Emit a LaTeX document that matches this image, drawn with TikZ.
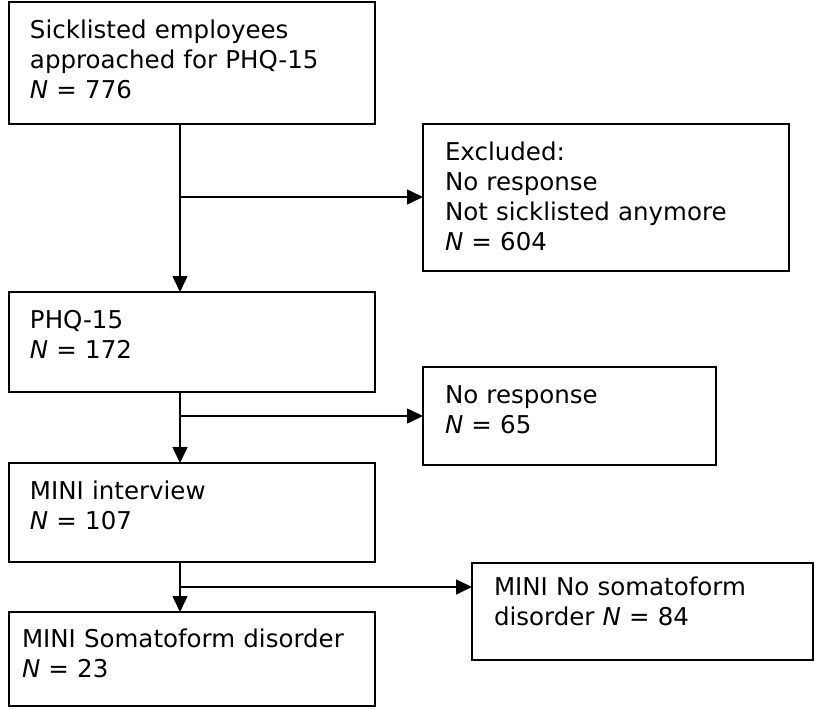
\documentclass[tikz,border=0pt]{standalone}
\usepackage{fontspec}
\setmainfont{DejaVu Sans}
\usetikzlibrary{arrows.meta}
\tikzset{
  stagebox/.style={draw, line width=1.6pt, anchor=north west, outer sep=0pt,
    inner xsep=21pt, inner ysep=0pt, align=left, text height=36pt,
    font=\fontsize{24.5pt}{30pt}\selectfont}
}
\begin{document}
\begin{tikzpicture}[x=1pt,y=-1pt]
  \useasboundingbox (0,0) rectangle (815,710);
  \begin{scope}
    \node[stagebox, text width=324pt, text depth=86pt] (approached) at (9,2)
    {Sicklisted employees\\approached for PHQ-15\\\textit{N} = 776};
    \node[stagebox, inner xsep=22pt, text width=322pt, text depth=111pt]
    (excluded) at (423,124) {Excluded:\\No response\\Not sicklisted
      anymore\\\textit{N} = 604};
    \node[stagebox, text width=324pt, text depth=64pt] (phq) at (9,292)
    {PHQ-15\\\textit{N} = 172};
    \node[stagebox, inner xsep=22pt, text width=249pt, text depth=62pt]
    (noresp) at (423,367) {No response\\\textit{N} = 65};
    \node[stagebox, text width=324pt, text depth=63pt] (mini) at (9,463)
    {MINI interview\\\textit{N} = 107};
    \node[stagebox, inner xsep=22pt, text width=297pt, text height=32pt,
    text depth=65pt] (nosoma) at (472,563) {MINI No somatoform\\disorder
      \textit{N} = 84};
    \node[stagebox, inner xsep=13pt, text width=340pt, text height=35pt,
    text depth=59pt] (soma) at (9,612) {MINI Somatoform disorder\\\textit{N}
      = 23};
  \end{scope}

  \coordinate (split1) at (180,197);
  \coordinate (split2) at (180,416);
  \coordinate (split3) at (180,587);

  \begin{scope}[->, >={Triangle[length=16pt,width=15pt]}, line width=1.6pt]
    \draw (approached.south -| split1) -- (phq.north -| split1);
    \draw (split1) -- (split1 -| excluded.west);
    \draw (phq.south -| split2) -- (mini.north -| split2);
    \draw (split2) -- (split2 -| noresp.west);
    \draw (mini.south -| split3) -- (soma.north -| split3);
    \draw (split3) -- (split3 -| nosoma.west);
  \end{scope}
\end{tikzpicture}
\end{document}
